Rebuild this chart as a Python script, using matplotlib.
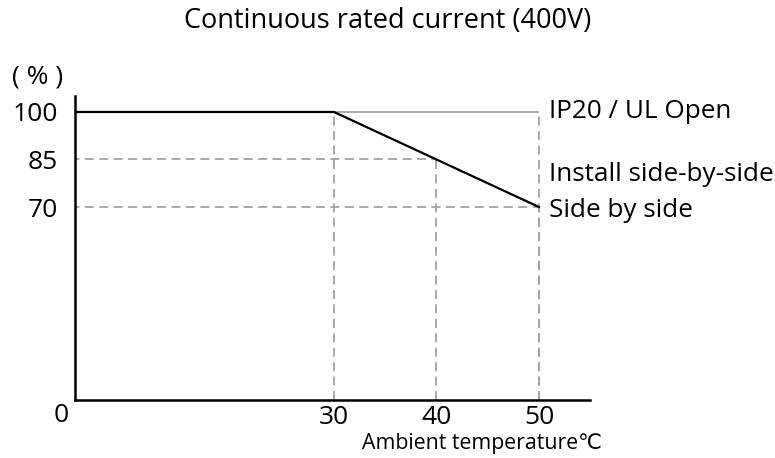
import matplotlib
matplotlib.use("Agg")
import matplotlib.pyplot as plt

plt.rcParams['font.family'] = ['Open Sans', 'DejaVu Sans']

# derating curve: rated current (%) vs ambient temperature (C)
derate_temp = [0, 30, 50]
derate_pct = [100, 100, 70]

# reference levels and the temperatures they are read at
level_pct = [85, 70]
level_temp = [40, 50]
ip20_temp = [30, 50]

x_ticks = [30, 40, 50]
y_ticks = [70, 85, 100]
curve_labels = ['IP20 / UL Open', 'Install side-by-side', 'Side by side']
curve_label_y = [100.3, 80.4, 69.0]

GRAY = '#a3a3a3'
DASH = (5, 3)

fig = plt.figure(figsize=(7.75, 4.58), dpi=100)
ax = fig.add_axes([0.0968, 0.1266, 0.6645, 0.6638])

# guide lines
ax.plot(ip20_temp, [100, 100], color=GRAY, lw=1.3, solid_capstyle='butt')
ax.plot([50, 50], [0, 100], color=GRAY, lw=1.3, dashes=DASH)
ax.plot([30, 30], [0, 100], color=GRAY, lw=1.3, dashes=DASH)
for t, p in zip(level_temp, level_pct):
    ax.plot([0, t], [p, p], color=GRAY, lw=1.3, dashes=DASH)
    ax.plot([t, t], [0, p], color=GRAY, lw=1.3, dashes=DASH)

# derating curve
ax.plot(derate_temp, derate_pct, color='black', lw=1.6, zorder=5)

ax.set_xlim(4.73, 54.98)
ax.set_ylim(9.06, 105.05)

for s in ['top', 'right']:
    ax.spines[s].set_visible(False)
for s in ['left', 'bottom']:
    ax.spines[s].set_linewidth(1.8)
    ax.spines[s].set_color('black')

ax.set_xticks(x_ticks)
ax.set_yticks(y_ticks)
ax.tick_params(axis='x', length=0, pad=3.5, labelsize=19)
ax.tick_params(axis='y', length=0, pad=12, labelsize=19)

fig.text(61 / 775, 1 - 416 / 458, '0', fontsize=19, ha='center', va='center')
fig.text(38 / 775, 1 - 77 / 458, '( % )', fontsize=19, ha='center', va='center')
fig.text(362 / 775, 1 - 443 / 458, 'Ambient temperature℃', fontsize=15.3,
         ha='left', va='center')
fig.text(0.5, 1 - 21 / 458, 'Continuous rated current (400V)', fontsize=19.5,
         ha='center', va='center')

for lab, y in zip(curve_labels, curve_label_y):
    ax.text(51.0, y, lab, fontsize=18.8, ha='left', va='center', clip_on=False)

fig.savefig('out.png', dpi=100)
